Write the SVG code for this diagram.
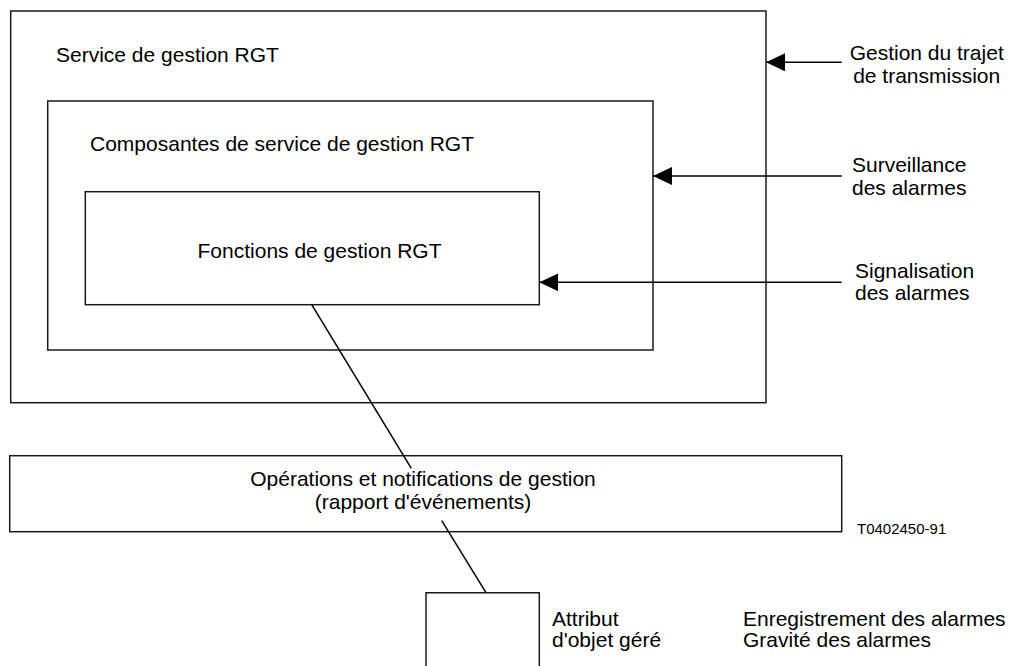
<svg xmlns="http://www.w3.org/2000/svg" width="1015" height="666" viewBox="0 0 1015 666">
  <style>
    .box { fill: none; stroke: #1a1a1a; stroke-width: 1.5; }
    .conn { stroke: #000; stroke-width: 1.5; fill: none; }
    text { font-family: "Liberation Sans", Arial, sans-serif; font-size: 21px; fill: #000; }
    .mid { text-anchor: middle; }
    .small { font-size: 15px; }
  </style>
  <defs>
    <marker id="arrow" viewBox="0 0 19 18" refX="0" refY="9" markerWidth="19" markerHeight="18" markerUnits="userSpaceOnUse" orient="auto">
      <path d="M0,9 L19,0 L19,18 Z" fill="#000"/>
    </marker>
  </defs>
  <rect width="1015" height="666" fill="#fff"/>

  <g id="service-gestion">
    <rect class="box" x="10.7" y="11" width="755.3" height="391.7"/>
    <text x="56" y="61.5">Service de gestion RGT</text>
  </g>
  <g id="composantes">
    <rect class="box" x="47.7" y="101" width="605.3" height="249"/>
    <text x="90" y="151">Composantes de service de gestion RGT</text>
  </g>
  <g id="fonctions">
    <rect class="box" x="85.3" y="191.7" width="454" height="113"/>
    <text class="mid" x="319.5" y="258">Fonctions de gestion RGT</text>
  </g>
  <g id="operations">
    <rect class="box" x="9.7" y="455.7" width="832" height="76"/>
    <text class="mid" x="423" y="486">Opérations et notifications de gestion</text>
    <text class="mid" x="423" y="509">(rapport d'événements)</text>
  </g>
  <g id="attribut">
    <path class="box" d="M426,668 V592.7 H539.3 V668"/>
    <text x="552" y="626">Attribut</text>
    <text x="552" y="647">d'objet géré</text>
  </g>
  <g id="label-trajet">
    <text class="mid" x="926.7" y="60">Gestion du trajet</text>
    <text class="mid" x="926.7" y="83">de transmission</text>
  </g>
  <g id="label-surveillance">
    <text x="852" y="171.5">Surveillance</text>
    <text x="852" y="195">des alarmes</text>
  </g>
  <g id="label-signalisation">
    <text x="855" y="278">Signalisation</text>
    <text x="855" y="300">des alarmes</text>
  </g>
  <g id="label-enregistrement">
    <text x="743" y="626">Enregistrement des alarmes</text>
    <text x="743" y="647">Gravité des alarmes</text>
  </g>
  <g id="figure-ref">
    <text class="small" x="857" y="534.3">T0402450-91</text>
  </g>

  <g id="connectors">
    <line class="conn" x1="766" y1="62.3" x2="841.7" y2="62.3" marker-start="url(#arrow)"/>
    <line class="conn" x1="653" y1="176" x2="841.7" y2="176" marker-start="url(#arrow)"/>
    <line class="conn" x1="539.3" y1="282.3" x2="841.7" y2="282.3" marker-start="url(#arrow)"/>
    <line class="conn" x1="311.7" y1="304.7" x2="411.3" y2="468.3"/>
    <line class="conn" x1="441.7" y1="520.7" x2="486" y2="592.7"/>
  </g>
</svg>
